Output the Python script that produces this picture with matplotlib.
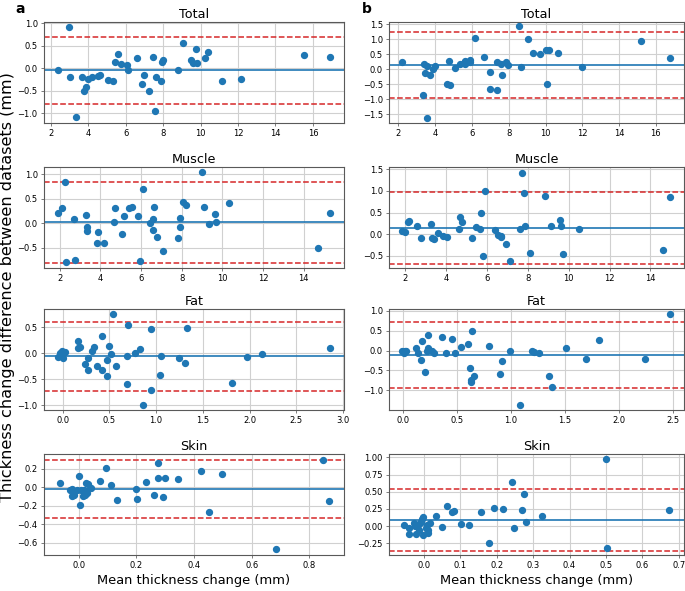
import numpy as np
import matplotlib.pyplot as plt

# ---- data (x = mean change, y = difference) ----
# column a
a_total_x = [2.39, 2.96, 3.05, 3.33, 3.69, 3.80, 3.89, 4.01, 4.19, 4.54, 4.65, 5.04, 5.31, 5.42,
             5.59, 5.74, 6.06, 6.11, 6.59, 6.88, 6.96, 7.23, 7.44, 7.55, 7.64, 7.87, 7.94, 7.98,
             8.78, 9.05, 9.47, 9.62, 9.76, 9.81, 10.26, 10.42, 11.15, 12.18, 15.52, 16.91]
a_total_y = [-0.04, 0.91, -0.20, -1.08, -0.19, -0.51, -0.42, -0.24, -0.20, -0.18, -0.15, -0.26,
             -0.29, 0.15, 0.32, 0.10, 0.08, -0.03, 0.23, -0.35, -0.15, -0.51, 0.26, -0.95, -0.19,
             -0.28, 0.13, 0.18, -0.04, 0.56, 0.19, 0.11, 0.43, 0.11, 0.22, 0.37, -0.29, -0.25,
             0.29, 0.24]

a_muscle_x = [1.92, 2.10, 2.25, 2.30, 2.69, 2.74, 3.30, 3.36, 3.36, 3.85, 3.87, 4.18, 4.70, 4.69,
              5.05, 5.16, 5.41, 5.57, 5.87, 5.93, 6.08, 6.43, 6.59, 6.62, 6.59, 6.79, 7.10, 7.82,
              7.90, 7.93, 8.07, 8.21, 8.98, 9.10, 9.33, 9.64, 9.70, 10.34, 14.69, 15.30]
a_muscle_y = [0.20, 0.30, 0.84, -0.80, 0.08, -0.75, 0.16, -0.08, -0.16, -0.41, -0.18, -0.40,
              0.30, 0.03, -0.23, 0.14, 0.31, 0.33, 0.14, -0.78, 0.69, 0.01, 0.09, 0.34, -0.14,
              -0.28, -0.58, -0.30, 0.11, -0.08, 0.44, 0.37, 1.05, 0.32, -0.02, 0.19, 0.03, 0.41,
              -0.51, 0.21]

a_fat_x = [-0.05, -0.025, -0.01, 0.0, 0.03, 0.16, 0.16, 0.18, 0.24, 0.27, 0.27, 0.31, 0.34,
           0.37, 0.42, 0.42, 0.47, 0.47, 0.50, 0.52, 0.54, 0.57, 0.69, 0.69, 0.70, 0.77, 0.83,
           0.86, 0.94, 0.95, 1.04, 1.05, 1.24, 1.31, 1.33, 1.81, 1.97, 2.13, 2.86]
a_fat_y = [-0.08, 0.0, 0.04, -0.09, 0.03, 0.23, 0.10, 0.12, -0.21, -0.32, -0.10, 0.05, 0.12,
           -0.25, 0.33, -0.33, -0.44, -0.12, 0.13, -0.01, 0.75, -0.24, -0.05, -0.60, 0.54, 0.0,
           0.08, -1.0, 0.47, -0.70, -0.41, -0.06, -0.10, -0.19, 0.48, -0.57, -0.08, -0.02, 0.11]

a_skin_x = [-0.066, -0.03, -0.024, -0.024, -0.017, -0.007, 0.003, 0.006, 0.009, 0.017, 0.016,
            0.021, 0.024, 0.027, 0.028, 0.032, 0.044, 0.075, 0.095, 0.111, 0.133, 0.200, 0.202,
            0.234, 0.260, 0.276, 0.276, 0.294, 0.299, 0.346, 0.425, 0.452, 0.498, 0.683, 0.846,
            0.869]
a_skin_y = [0.047, -0.03, -0.02, -0.10, -0.09, -0.03, 0.115, -0.19, -0.03, -0.03, -0.10, -0.08,
            -0.04, 0.04, -0.065, 0.03, -0.014, 0.07, 0.21, 0.018, -0.137, -0.025, -0.133, 0.06,
            -0.083, 0.255, 0.10, -0.104, 0.094, 0.086, 0.173, -0.266, 0.144, -0.67, 0.291,
            -0.151]

# column b
b_total_x = [2.22, 3.34, 3.41, 3.45, 3.54, 3.56, 3.72, 3.87, 4.01, 4.64, 4.74, 4.81, 5.10, 5.35,
             5.57, 5.62, 5.62, 5.88, 5.91, 6.15, 6.66, 6.98, 6.98, 7.38, 7.38, 7.58, 7.63, 7.83,
             7.96, 8.58, 8.68, 9.03, 9.32, 9.70, 10.01, 10.06, 10.21, 10.68, 12.0, 15.17, 16.78]
b_total_y = [0.25, -0.84, 0.19, -0.12, 0.10, -1.62, -0.20, 0.00, 0.11, -0.49, 0.29, -0.51, 0.04,
             0.19, 0.21, 0.29, 0.18, 0.32, 0.25, 1.04, 0.40, -0.64, -0.09, -0.69, 0.25, 0.17,
             -0.18, 0.23, 0.16, 1.43, 0.07, 1.02, 0.56, 0.51, 0.63, -0.48, 0.63, 0.56, 0.07,
             0.95, 0.39]

b_muscle_x = [1.84, 2.0, 2.11, 2.20, 2.57, 2.78, 3.26, 3.32, 3.40, 3.62, 3.84, 4.02, 4.66, 4.64,
              4.79, 5.28, 5.46, 5.66, 5.69, 5.82, 5.90, 6.37, 6.53, 6.67, 6.70, 6.93, 7.14, 7.61,
              7.69, 7.81, 7.87, 8.10, 8.85, 9.13, 9.55, 9.62, 9.73, 10.50, 14.59, 14.97]
b_muscle_y = [0.08, 0.06, 0.27, 0.30, 0.18, -0.09, 0.23, -0.09, -0.12, 0.02, -0.04, -0.07, 0.40,
              0.13, 0.28, -0.08, 0.16, 0.12, 0.49, -0.51, 1.00, 0.09, -0.02, -0.05, -0.07, -0.22,
              -0.63, 0.12, 1.42, 0.95, 0.20, -0.43, 0.88, 0.20, 0.33, 0.20, -0.45, 0.12, -0.36,
              0.86]

b_fat_x = [-0.01, 0.006, 0.015, 0.03, 0.12, 0.14, 0.18, 0.17, 0.20, 0.22, 0.23, 0.23, 0.27,
           0.29, 0.36, 0.40, 0.45, 0.48, 0.54, 0.60, 0.62, 0.63, 0.63, 0.64, 0.66, 0.80, 0.90,
           0.92, 0.99, 1.08, 1.19, 1.21, 1.26, 1.35, 1.38, 1.51, 1.69, 1.81, 2.24, 2.47]
b_fat_y = [0.0, -0.07, 0.0, -0.02, 0.07, -0.06, 0.23, -0.24, -0.55, 0.0, 0.39, 0.06, -0.01,
           -0.05, 0.33, -0.06, 0.30, -0.05, 0.08, 0.17, -0.45, -0.74, -0.79, 0.49, -0.64, 0.12,
           -0.58, -0.26, -0.02, -1.36, -0.02, -0.03, -0.05, -0.65, -0.92, 0.07, -0.22, 0.27,
           -0.22, 0.92]

b_skin_x = [-0.054, -0.039, -0.039, -0.027, -0.024, -0.021, -0.016, -0.014, -0.01, -0.006,
            -0.005, -0.003, -0.001, 0.006, 0.009, 0.011, 0.012, 0.018, 0.034, 0.049, 0.065,
            0.078, 0.084, 0.103, 0.124, 0.157, 0.179, 0.192, 0.218, 0.242, 0.247, 0.27, 0.274,
            0.282, 0.324, 0.50, 0.502, 0.673]
b_skin_y = [0.015, -0.02, -0.108, 0.05, 0.0, -0.113, 0.01, -0.05, 0.044, 0.064, 0.108, 0.127,
            -0.132, -0.03, 0.02, -0.05, -0.098, 0.05, 0.147, -0.015, 0.30, 0.21, 0.225, 0.03,
            0.02, 0.206, -0.24, 0.265, 0.255, 0.647, -0.02, 0.23, 0.47, 0.064, 0.147, 0.97,
            -0.32, 0.23]

titles = ["Total", "Muscle", "Fat", "Skin"]

# mean bias and limits of agreement as drawn
a_bias = [-0.04, 0.03, -0.06, -0.02]
a_upper = [0.70, 0.85, 0.60, 0.29]
a_lower = [-0.79, -0.81, -0.73, -0.33]
b_bias = [0.13, 0.15, -0.11, 0.09]
b_upper = [1.23, 0.98, 0.71, 0.54]
b_lower = [-0.97, -0.68, -0.95, -0.36]

a_data = [(a_total_x, a_total_y), (a_muscle_x, a_muscle_y), (a_fat_x, a_fat_y), (a_skin_x, a_skin_y)]
b_data = [(b_total_x, b_total_y), (b_muscle_x, b_muscle_y), (b_fat_x, b_fat_y), (b_skin_x, b_skin_y)]

a_xlim = [(1.64, 17.66), (1.23, 15.98), (-0.20, 3.01), (-0.12, 0.92)]
a_ylim = [(-1.22, 1.03), (-0.92, 1.15), (-1.09, 0.85), (-0.73, 0.356)]
b_xlim = [(1.49, 17.53), (1.20, 15.64), (-0.13, 2.60), (-0.095, 0.714)]
b_ylim = [(-1.79, 1.58), (-0.78, 1.55), (-1.49, 1.04), (-0.42, 1.05)]

a_yticks = [[-1.0, -0.5, 0.0, 0.5, 1.0], [-0.5, 0.0, 0.5, 1.0], [-1.0, -0.5, 0.0, 0.5],
            [-0.6, -0.4, -0.2, 0.0, 0.2]]
b_yticks = [[-1.5, -1.0, -0.5, 0.0, 0.5, 1.0, 1.5], [-0.5, 0.0, 0.5, 1.0, 1.5],
            [-1.0, -0.5, 0.0, 0.5, 1.0], [-0.25, 0.0, 0.25, 0.5, 0.75, 1.0]]

W, H = 685, 591
fig = plt.figure(figsize=(W / 100, H / 100), dpi=100)

rows_px = [(22, 123), (167, 268), (309, 410), (454, 555)]
cols_px = [(44, 344), (389, 684)]


def panel(ax, x, y, bias, up, lo, title, xlim, ylim, yticks):
    ax.set_axisbelow(True)
    ax.grid(True, color="#d0d0d0", linewidth=0.8)
    ax.scatter(x, y, s=18, color="tab:blue", zorder=3)
    ax.axhline(bias, color="tab:blue", linewidth=1.2, zorder=2)
    ax.axhline(up, color="tab:red", linestyle="--", linewidth=1.1, zorder=2)
    ax.axhline(lo, color="tab:red", linestyle="--", linewidth=1.1, zorder=2)
    ax.set_xlim(*xlim)
    ax.set_ylim(*ylim)
    ax.set_yticks(yticks)
    ax.set_title(title, fontsize=9.2, pad=3)
    ax.tick_params(labelsize=6, length=2.5, width=0.6, pad=2, color="0.4")
    for s in ax.spines.values():
        s.set_color("0.35")
        s.set_linewidth(0.8)


for c, (data, bias, up, lo, xl, yl, yt) in enumerate([
        (a_data, a_bias, a_upper, a_lower, a_xlim, a_ylim, a_yticks),
        (b_data, b_bias, b_upper, b_lower, b_xlim, b_ylim, b_yticks)]):
    x0, x1 = cols_px[c]
    for r in range(4):
        y0, y1 = rows_px[r]
        ax = fig.add_axes([x0 / W, 1 - y1 / H, (x1 - x0) / W, (y1 - y0) / H])
        panel(ax, data[r][0], data[r][1], bias[r], up[r], lo[r], titles[r], xl[r], yl[r], yt[r])
        if r == 3:
            ax.set_xlabel("Mean thickness change (mm)", fontsize=9.4, labelpad=3)

fig.text(20 / W, 1 - 9 / H, "a", fontsize=10, fontweight="bold", va="center", ha="center")
fig.text(367 / W, 1 - 9 / H, "b", fontsize=10, fontweight="bold", va="center", ha="center")
fig.text(8 / W, 1 - 287 / H, "Thickness change difference between datasets (mm)",
         rotation=90, fontsize=11.6, va="center", ha="center")

fig.savefig("out.png", dpi=100)
